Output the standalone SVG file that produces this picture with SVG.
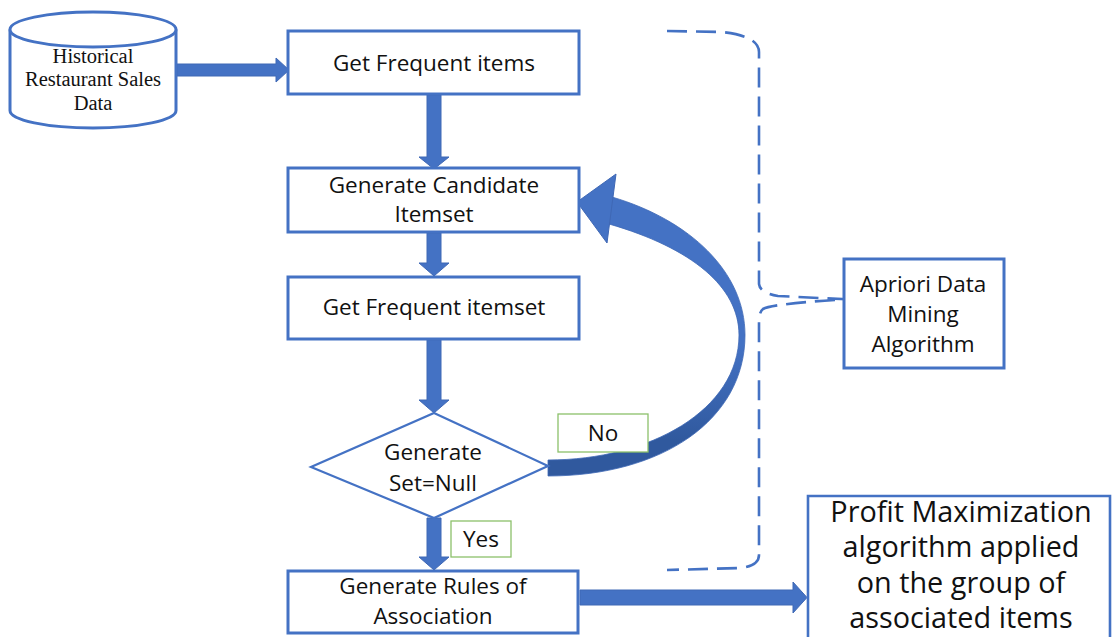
<svg xmlns="http://www.w3.org/2000/svg" width="1113" height="637" viewBox="0 0 1113 637">
  <style>
    .box { fill: #ffffff; stroke: #4472C4; stroke-width: 3; }
    .tag { fill: #ffffff; stroke: #8CC16A; stroke-width: 1.3; }
    .arrow { fill: #4472C4; stroke: #3F68B5; stroke-width: 1; }
    .brace { fill: none; stroke: #4472C4; stroke-width: 2.6; stroke-dasharray: 20 9; }
    .lbl { font-family: "Open Sans", "Noto Sans", "Liberation Sans", sans-serif; font-size: 22.5px; fill: #111111; text-anchor: middle; }
    .serif { font-family: "Liberation Serif", "DejaVu Serif", serif; font-size: 20.5px; fill: #111111; text-anchor: middle; }
    .big { font-family: "Open Sans", "Noto Sans", "Liberation Sans", sans-serif; font-size: 28.8px; fill: #111111; text-anchor: middle; }
  </style>
  <defs>
    <linearGradient id="loopShade" gradientUnits="userSpaceOnUse" x1="0" y1="345" x2="0" y2="440">
      <stop offset="0" stop-color="#4472C4"/>
      <stop offset="1" stop-color="#30599E"/>
    </linearGradient>
  </defs>

  <rect x="0" y="0" width="1113" height="637" fill="#ffffff"/>

  <!-- connectors -->
  <g id="connectors">
    <!-- data store to first step -->
    <polygon class="arrow" points="177,64 276,64 276,58 289,70 276,82 276,76 177,76"/>
    <!-- vertical flow arrows -->
    <polygon class="arrow" points="427,95 441,95 441,157 449,157 434,169 419,157 427,157"/>
    <polygon class="arrow" points="427,233 441,233 441,263 449,263 434,276 419,263 427,263"/>
    <polygon class="arrow" points="427,340 441,340 441,400 449,400 434,413 419,400 427,400"/>
    <polygon class="arrow" points="427,518 441,518 441,557 449,557 434,570 419,557 427,557"/>
    <!-- rules to profit step -->
    <polygon class="arrow" points="580,590 793,590 793,582 807,597.5 793,613 793,605 580,605"/>
    <!-- loop back from the decision ("No") -->
    <path d="M 612,197 C 690,220 745,272 745,335 C 745,420 662,476 548,476 L 548,460 C 650,460 739,410 739,335 C 739,287 692,248 609,224 Z" fill="url(#loopShade)" stroke="#3F68B5" stroke-width="0.8"/>
    <polygon class="arrow" points="577,202 616,174 607,243"/>
    <!-- dashed brace grouping the algorithm steps -->
    <path class="brace" d="M 667,31 L 722,32 Q 759,36 759,52 L 759,284 Q 760,293 778,296 L 862,300"/>
    <path class="brace" d="M 835,300 Q 772,304 763,309 Q 759,312 759,322 L 759,555 Q 759,566 740,568 L 667,570"/>
  </g>

  <!-- data source -->
  <g id="node-sales-data">
    <path class="box" d="M 10,29.5 L 10,110.5 A 83,17.5 0 0 0 176,110.5 L 176,29.5"/>
    <ellipse class="box" cx="93" cy="29.5" rx="83" ry="17.5"/>
    <text class="serif" x="93" y="63">Historical</text>
    <text class="serif" x="93" y="86">Restaurant Sales</text>
    <text class="serif" x="93" y="110">Data</text>
  </g>

  <g id="node-frequent-items">
    <rect class="box" x="288" y="31" width="291" height="63"/>
    <text class="lbl" x="434" y="71">Get Frequent items</text>
  </g>

  <g id="node-candidate">
    <rect class="box" x="288" y="168" width="291" height="64"/>
    <text class="lbl" x="434" y="193">Generate Candidate</text>
    <text class="lbl" x="434" y="222">Itemset</text>
  </g>

  <g id="node-frequent-itemset">
    <rect class="box" x="288" y="277" width="291" height="62"/>
    <text class="lbl" x="434" y="315">Get Frequent itemset</text>
  </g>

  <g id="node-decision">
    <polygon points="434,413 548,466 434,518 311,467" fill="#ffffff" stroke="#4472C4" stroke-width="2.2"/>
    <text class="lbl" x="433" y="460">Generate</text>
    <text class="lbl" x="433" y="491">Set=Null</text>
  </g>

  <g id="label-no">
    <rect class="tag" x="558" y="414" width="90" height="38"/>
    <text class="lbl" x="603" y="441">No</text>
  </g>

  <g id="label-yes">
    <rect class="tag" x="451" y="521" width="60" height="36"/>
    <text class="lbl" x="481" y="547">Yes</text>
  </g>

  <g id="node-rules">
    <rect class="box" x="288" y="571" width="290" height="62"/>
    <text class="lbl" x="433" y="594">Generate Rules of</text>
    <text class="lbl" x="433" y="624">Association</text>
  </g>

  <g id="node-apriori">
    <rect class="box" x="844" y="259" width="160" height="109"/>
    <text class="lbl" x="923" y="292">Apriori Data</text>
    <text class="lbl" x="923" y="322">Mining</text>
    <text class="lbl" x="923" y="352">Algorithm</text>
  </g>

  <g id="node-profit">
    <path d="M 808,640 L 808,496 L 1110,496 L 1110,640" fill="#ffffff" stroke="#4472C4" stroke-width="2.6"/>
    <text class="big" x="961" y="521.5">Profit Maximization</text>
    <text class="big" x="961" y="557">algorithm applied</text>
    <text class="big" x="961" y="592.5">on the group of</text>
    <text class="big" x="961" y="628">associated items</text>
  </g>
</svg>
